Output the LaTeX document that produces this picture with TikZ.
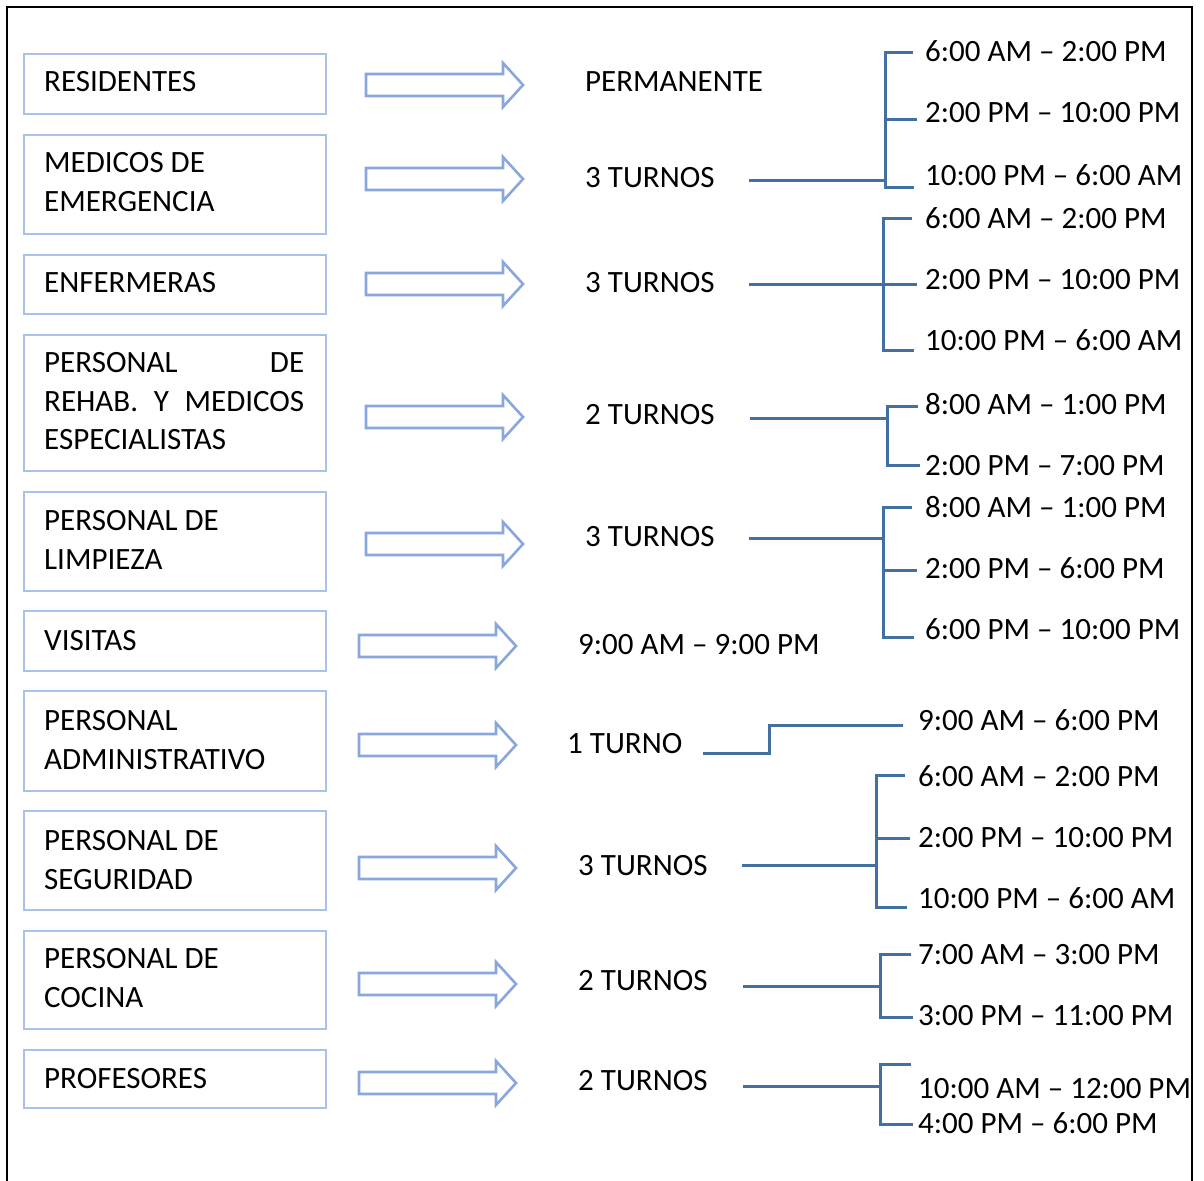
\documentclass[tikz,border=0pt]{standalone}
\usepackage{fontspec}
\setmainfont{Carlito}
\definecolor{boxblue}{RGB}{168,194,234}
\definecolor{arrowblue}{RGB}{138,166,222}
\definecolor{connblue}{RGB}{66,112,160}

% block arrow: #1 left x, #2 tip x, #3 centre y
\newcommand\blkarrow[3]{%
  \draw[blockarrow] (#1,#3-11) -- (#2-20,#3-11) -- (#2-20,#3-22) -- (#2,#3)
    -- (#2-20,#3+22) -- (#2-20,#3+11) -- (#1,#3+11) -- cycle;}

\begin{document}
\begin{tikzpicture}[x=1pt,y=-1pt,
  txt/.style={anchor=base west, inner sep=0pt, font=\fontsize{31}{38}\selectfont},
  pbox/.style={draw=boxblue, line width=2.4pt, anchor=north west, inner sep=0pt,
               minimum width=302pt},
  blockarrow/.style={draw=arrowblue, line width=2.6pt, fill=white, line join=miter},
  conn/.style={draw=connblue, line width=3pt},
  frame/.style={draw=black, line width=2pt}]

\useasboundingbox (0,0) rectangle (1204,1180);

% outer frame
\draw[frame] (7,1185) -- (7,7) -- (1192,7) -- (1192,1185);

% staff boxes
\node[pbox, minimum height=60pt]  (b1)  at (23,53)   {};
\node[pbox, minimum height=99pt]  (b2)  at (23,134)  {};
\node[pbox, minimum height=59pt]  (b3)  at (23,254)  {};
\node[pbox, minimum height=136pt] (b4)  at (23,334)  {};
\node[pbox, minimum height=99pt]  (b5)  at (23,491)  {};
\node[pbox, minimum height=60pt]  (b6)  at (23,610)  {};
\node[pbox, minimum height=100pt] (b7)  at (23,690)  {};
\node[pbox, minimum height=99pt]  (b8)  at (23,810)  {};
\node[pbox, minimum height=98pt]  (b9)  at (23,930)  {};
\node[pbox, minimum height=58pt]  (b10) at (23,1049) {};

\node[txt] (t1)  at (44,92)   {RESIDENTES};
\node[txt] (t2a) at (44,172)  {MEDICOS DE};
\node[txt] (t2b) at (44,211)  {EMERGENCIA};
\node[txt] (t3)  at (44,292)  {ENFERMERAS};
\node[txt] (t4a) at (44,372)  {\makebox[260pt][s]{PERSONAL DE}};
\node[txt] (t4b) at (44,411)  {\makebox[260pt][s]{REHAB. Y MEDICOS}};
\node[txt] (t4c) at (44,449)  {ESPECIALISTAS};
\node[txt] (t5a) at (44,530)  {PERSONAL DE};
\node[txt] (t5b) at (44,569)  {LIMPIEZA};
\node[txt] (t6)  at (44,650)  {VISITAS};
\node[txt] (t7a) at (44,730)  {PERSONAL};
\node[txt] (t7b) at (44,769)  {ADMINISTRATIVO};
\node[txt] (t8a) at (44,850)  {PERSONAL DE};
\node[txt] (t8b) at (44,889)  {SEGURIDAD};
\node[txt] (t9a) at (44,968)  {PERSONAL DE};
\node[txt] (t9b) at (44,1007) {COCINA};
\node[txt] (t10) at (44,1088) {PROFESORES};

% block arrows
\blkarrow{366}{523}{85}
\blkarrow{366}{523}{179}
\blkarrow{366}{523}{284}
\blkarrow{366}{523}{417}
\blkarrow{366}{523}{544}
\blkarrow{359}{516}{646}
\blkarrow{359}{516}{745}
\blkarrow{359}{516}{868}
\blkarrow{359}{516}{984}
\blkarrow{359}{516}{1083}

% shift counts
\node[txt] (m1)  at (585,92)   {PERMANENTE};
\node[txt] (m2)  at (585,187)  {3 TURNOS};
\node[txt] (m3)  at (585,292)  {3 TURNOS};
\node[txt] (m4)  at (585,424)  {2 TURNOS};
\node[txt] (m5)  at (585,546)  {3 TURNOS};
\node[txt] (m6)  at (578,654)  {9:00 AM – 9:00 PM};
\node[txt] (m7)  at (567,753)  {1 TURNO};
\node[txt] (m8)  at (578,875)  {3 TURNOS};
\node[txt] (m9)  at (578,990)  {2 TURNOS};
\node[txt] (m10) at (578,1090) {2 TURNOS};

% shift hours
\node[txt] (h2a) at (925,62)   {6:00 AM – 2:00 PM};
\node[txt] (h2b) at (925,123)  {2:00 PM – 10:00 PM};
\node[txt] (h2c) at (925,185)  {10:00 PM – 6:00 AM};
\node[txt] (h3a) at (925,228)  {6:00 AM – 2:00 PM};
\node[txt] (h3b) at (925,289)  {2:00 PM – 10:00 PM};
\node[txt] (h3c) at (925,350)  {10:00 PM – 6:00 AM};
\node[txt] (h4a) at (925,414)  {8:00 AM – 1:00 PM};
\node[txt] (h4b) at (925,475)  {2:00 PM – 7:00 PM};
\node[txt] (h5a) at (925,517)  {8:00 AM – 1:00 PM};
\node[txt] (h5b) at (925,578)  {2:00 PM – 6:00 PM};
\node[txt] (h5c) at (925,639)  {6:00 PM – 10:00 PM};
\node[txt] (h7)  at (918,730)  {9:00 AM – 6:00 PM};
\node[txt] (h8a) at (918,786)  {6:00 AM – 2:00 PM};
\node[txt] (h8b) at (918,847)  {2:00 PM – 10:00 PM};
\node[txt] (h8c) at (918,908)  {10:00 PM – 6:00 AM};
\node[txt] (h9a) at (918,964)  {7:00 AM – 3:00 PM};
\node[txt] (h9b) at (918,1025) {3:00 PM – 11:00 PM};
\node[txt] (h10a) at (918,1098) {10:00 AM – 12:00 PM};
\node[txt] (h10b) at (918,1133) {4:00 PM – 6:00 PM};

% brackets from each shift count to its hours
% medicos de emergencia
\coordinate (s2) at (749,180);  \coordinate (j2) at (885,180);
\coordinate (k2a) at (913,53);  \coordinate (k2b) at (917,120); \coordinate (k2c) at (914,187);
\draw[conn] (s2) -- (j2);
\draw[conn] (k2a) -- (k2a -| j2) -- (k2c -| j2) -- (k2c);
\draw[conn] (k2b -| j2) -- (k2b);

% enfermeras
\coordinate (s3) at (749,284);  \coordinate (j3) at (883,284);
\coordinate (k3a) at (912,218); \coordinate (k3b) at (917,284); \coordinate (k3c) at (914,350);
\draw[conn] (s3) -- (j3);
\draw[conn] (k3a) -- (k3a -| j3) -- (k3c -| j3) -- (k3c);
\draw[conn] (k3b -| j3) -- (k3b);

% rehabilitacion y especialistas
\coordinate (s4) at (750,418);  \coordinate (j4) at (887,418);
\coordinate (k4a) at (918,406); \coordinate (k4b) at (920,465);
\draw[conn] (s4) -- (j4);
\draw[conn] (k4a) -- (k4a -| j4) -- (k4b -| j4) -- (k4b);

% limpieza
\coordinate (s5) at (749,538);  \coordinate (j5) at (883,538);
\coordinate (k5a) at (912,507); \coordinate (k5b) at (917,570); \coordinate (k5c) at (914,637);
\draw[conn] (s5) -- (j5);
\draw[conn] (k5a) -- (k5a -| j5) -- (k5c -| j5) -- (k5c);
\draw[conn] (k5b -| j5) -- (k5b);

% administrativo
\coordinate (s7) at (703,753);  \coordinate (j7) at (769,753); \coordinate (k7) at (903,725);
\draw[conn] (s7) -- (j7) -- (j7 |- k7) -- (k7);

% seguridad
\coordinate (s8) at (742,865);  \coordinate (j8) at (876,865);
\coordinate (k8a) at (905,775); \coordinate (k8b) at (910,838); \coordinate (k8c) at (907,907);
\draw[conn] (s8) -- (j8);
\draw[conn] (k8a) -- (k8a -| j8) -- (k8c -| j8) -- (k8c);
\draw[conn] (k8b -| j8) -- (k8b);

% cocina
\coordinate (s9) at (743,986);  \coordinate (j9) at (880,986);
\coordinate (k9a) at (911,954); \coordinate (k9b) at (913,1017);
\draw[conn] (s9) -- (j9);
\draw[conn] (k9a) -- (k9a -| j9) -- (k9b -| j9) -- (k9b);

% profesores
\coordinate (s10) at (743,1086); \coordinate (j10) at (880,1086);
\coordinate (k10a) at (911,1064); \coordinate (k10b) at (913,1124);
\draw[conn] (s10) -- (j10);
\draw[conn] (k10a) -- (k10a -| j10) -- (k10b -| j10) -- (k10b);

\end{tikzpicture}
\end{document}
